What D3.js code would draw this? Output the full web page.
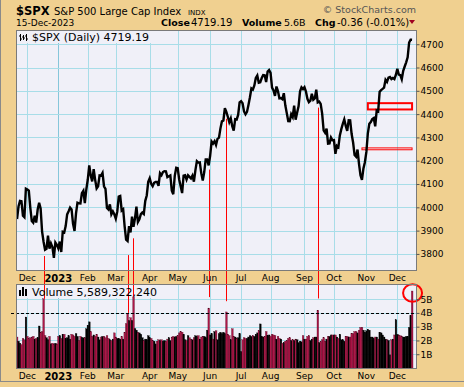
<!DOCTYPE html>
<html><head><meta charset="utf-8">
<script src="https://cdn.jsdelivr.net/npm/d3@7/dist/d3.min.js"></script>
<style>body{margin:0;background:#F0D090}svg{display:block}</style>
</head><body><svg id="c" width="464" height="387"></svg>
<script>
// ---------- DATA ----------
const dates = [
"2022-11-21","2022-11-22","2022-11-23","2022-11-25","2022-11-28","2022-11-29","2022-11-30",
"2022-12-01","2022-12-02","2022-12-05","2022-12-06","2022-12-07","2022-12-08","2022-12-09","2022-12-12","2022-12-13","2022-12-14","2022-12-15","2022-12-16","2022-12-19","2022-12-20","2022-12-21","2022-12-22","2022-12-23","2022-12-27","2022-12-28","2022-12-29","2022-12-30",
"2023-01-03","2023-01-04","2023-01-05","2023-01-06","2023-01-09","2023-01-10","2023-01-11","2023-01-12","2023-01-13","2023-01-17","2023-01-18","2023-01-19","2023-01-20","2023-01-23","2023-01-24","2023-01-25","2023-01-26","2023-01-27","2023-01-30","2023-01-31",
"2023-02-01","2023-02-02","2023-02-03","2023-02-06","2023-02-07","2023-02-08","2023-02-09","2023-02-10","2023-02-13","2023-02-14","2023-02-15","2023-02-16","2023-02-17","2023-02-21","2023-02-22","2023-02-23","2023-02-24","2023-02-27","2023-02-28",
"2023-03-01","2023-03-02","2023-03-03","2023-03-06","2023-03-07","2023-03-08","2023-03-09","2023-03-10","2023-03-13","2023-03-14","2023-03-15","2023-03-16","2023-03-17","2023-03-20","2023-03-21","2023-03-22","2023-03-23","2023-03-24","2023-03-27","2023-03-28","2023-03-29","2023-03-30","2023-03-31",
"2023-04-03","2023-04-04","2023-04-05","2023-04-06","2023-04-10","2023-04-11","2023-04-12","2023-04-13","2023-04-14","2023-04-17","2023-04-18","2023-04-19","2023-04-20","2023-04-21","2023-04-24","2023-04-25","2023-04-26","2023-04-27","2023-04-28",
"2023-05-01","2023-05-02","2023-05-03","2023-05-04","2023-05-05","2023-05-08","2023-05-09","2023-05-10","2023-05-11","2023-05-12","2023-05-15","2023-05-16","2023-05-17","2023-05-18","2023-05-19","2023-05-22","2023-05-23","2023-05-24","2023-05-25","2023-05-26","2023-05-30","2023-05-31",
"2023-06-01","2023-06-02","2023-06-05","2023-06-06","2023-06-07","2023-06-08","2023-06-09","2023-06-12","2023-06-13","2023-06-14","2023-06-15","2023-06-16","2023-06-20","2023-06-21","2023-06-22","2023-06-23","2023-06-26","2023-06-27","2023-06-28","2023-06-29","2023-06-30",
"2023-07-03","2023-07-05","2023-07-06","2023-07-07","2023-07-10","2023-07-11","2023-07-12","2023-07-13","2023-07-14","2023-07-17","2023-07-18","2023-07-19","2023-07-20","2023-07-21","2023-07-24","2023-07-25","2023-07-26","2023-07-27","2023-07-28","2023-07-31",
"2023-08-01","2023-08-02","2023-08-03","2023-08-04","2023-08-07","2023-08-08","2023-08-09","2023-08-10","2023-08-11","2023-08-14","2023-08-15","2023-08-16","2023-08-17","2023-08-18","2023-08-21","2023-08-22","2023-08-23","2023-08-24","2023-08-25","2023-08-28","2023-08-29","2023-08-30","2023-08-31",
"2023-09-01","2023-09-05","2023-09-06","2023-09-07","2023-09-08","2023-09-11","2023-09-12","2023-09-13","2023-09-14","2023-09-15","2023-09-18","2023-09-19","2023-09-20","2023-09-21","2023-09-22","2023-09-25","2023-09-26","2023-09-27","2023-09-28","2023-09-29",
"2023-10-02","2023-10-03","2023-10-04","2023-10-05","2023-10-06","2023-10-09","2023-10-10","2023-10-11","2023-10-12","2023-10-13","2023-10-16","2023-10-17","2023-10-18","2023-10-19","2023-10-20","2023-10-23","2023-10-24","2023-10-25","2023-10-26","2023-10-27","2023-10-30","2023-10-31",
"2023-11-01","2023-11-02","2023-11-03","2023-11-06","2023-11-07","2023-11-08","2023-11-09","2023-11-10","2023-11-13","2023-11-14","2023-11-15","2023-11-16","2023-11-17","2023-11-20","2023-11-21","2023-11-22","2023-11-24","2023-11-27","2023-11-28","2023-11-29","2023-11-30",
"2023-12-01","2023-12-04","2023-12-05","2023-12-06","2023-12-07","2023-12-08","2023-12-11","2023-12-12","2023-12-13","2023-12-14","2023-12-15"
];
const closes = [
3949.94,4003.58,4027.26,4026.12,3963.94,3957.63,4080.11,
4076.57,4071.70,3998.84,3941.26,3933.92,3963.51,3934.38,3990.56,4019.65,3995.32,3895.75,3852.36,3817.66,3821.62,3878.44,3822.39,3844.82,3829.25,3783.22,3849.28,3839.50,
3824.14,3852.97,3808.10,3895.08,3892.09,3919.25,3969.61,3983.17,3999.09,3990.97,3928.86,3898.85,3972.61,4019.81,4016.95,4016.22,4060.43,4070.56,4017.77,4076.60,
4119.21,4179.76,4136.48,4111.08,4164.00,4117.86,4081.50,4090.46,4137.29,4136.13,4147.60,4090.41,4079.09,3997.34,3991.05,4012.32,3970.04,3982.24,3970.15,
3951.39,3981.35,4045.64,4048.42,3986.37,3992.01,3918.32,3861.59,3855.76,3919.29,3891.93,3960.28,3916.64,3951.57,4002.87,3936.97,3948.72,3970.99,3977.53,3971.27,4027.81,4050.83,4109.31,
4124.51,4100.60,4090.38,4105.02,4109.11,4108.94,4091.95,4146.22,4137.64,4151.32,4154.87,4154.52,4129.79,4133.52,4137.04,4071.63,4055.99,4135.35,4169.48,
4167.87,4119.58,4090.75,4061.22,4136.25,4138.12,4119.17,4137.64,4130.62,4124.08,4136.28,4109.90,4158.77,4198.05,4191.98,4192.63,4145.58,4115.24,4151.28,4205.45,4205.52,4179.83,
4221.02,4282.37,4273.79,4283.85,4267.52,4293.93,4298.86,4338.93,4369.01,4372.59,4425.84,4409.59,4388.71,4365.69,4381.89,4348.33,4328.82,4378.41,4376.86,4396.44,4450.38,
4455.59,4446.82,4411.59,4398.95,4409.53,4439.26,4472.16,4510.04,4505.42,4522.79,4554.98,4565.72,4534.87,4536.34,4554.64,4567.46,4566.75,4537.41,4582.23,4588.96,
4576.73,4513.39,4501.89,4478.03,4518.44,4499.38,4467.71,4468.83,4464.05,4489.72,4437.86,4404.33,4370.36,4369.71,4399.77,4387.55,4436.01,4376.31,4405.71,4433.31,4497.63,4514.87,4507.66,
4515.77,4496.83,4465.48,4451.14,4457.49,4487.46,4461.90,4467.44,4505.10,4450.32,4453.53,4443.95,4402.20,4330.00,4320.06,4337.44,4273.53,4274.51,4299.70,4288.05,
4288.39,4229.45,4263.75,4258.19,4308.50,4335.66,4358.24,4376.95,4349.61,4327.78,4373.63,4373.20,4314.60,4278.00,4224.16,4217.04,4247.68,4186.77,4137.23,4117.37,4166.82,4193.80,
4237.86,4317.78,4358.34,4365.98,4378.38,4382.78,4347.35,4415.24,4411.55,4495.70,4502.88,4508.24,4514.02,4547.38,4538.19,4556.62,4559.34,4550.43,4554.89,4550.58,4567.80,
4594.63,4569.78,4567.18,4549.34,4585.59,4604.37,4622.44,4643.70,4707.09,4719.55,4719.19
];
// volume in billions of shares
const volumes = [
2.25,1.95,1.8,1.7,2.15,2.05,3.7,
2.3,2.15,2.2,2.25,2.3,2.1,2.15,2.2,3.05,2.6,2.65,5.03,2.35,2.2,2.05,2.3,1.75,1.8,1.75,1.8,1.75,
2.3,2.35,2.15,2.45,2.45,2.15,2.2,2.35,2.1,2.45,2.4,2.3,2.5,2.3,2.0,2.3,2.2,2.2,2.2,2.85,
3.1,3.35,2.65,2.3,2.4,2.3,2.45,2.25,2.05,2.25,2.3,2.3,2.2,2.35,2.15,2.05,2.0,2.1,2.55,
2.25,2.15,2.15,2.1,2.3,2.1,2.6,3.22,3.97,3.45,3.65,3.45,5.16,2.86,2.75,2.6,2.55,2.45,2.2,2.0,2.1,2.05,2.35,
2.2,2.15,2.0,1.95,1.75,1.95,2.05,2.0,2.05,1.95,2.0,1.95,2.1,2.2,2.0,2.25,2.3,2.25,2.3,
2.35,2.55,2.65,2.6,2.45,2.05,2.0,2.35,2.2,2.1,2.05,2.2,2.35,2.3,2.35,2.1,2.25,2.3,2.3,2.2,2.75,4.35,
2.4,2.5,2.1,2.65,2.7,2.05,2.5,2.6,2.5,2.6,2.5,4.07,2.45,2.35,2.05,2.85,2.3,2.25,2.15,2.2,2.5,
1.2,2.05,2.2,2.15,2.15,2.25,2.35,2.3,2.35,2.3,2.45,2.55,2.7,3.2,2.3,2.25,2.3,2.65,2.35,2.4,
2.3,2.45,2.4,2.35,2.1,2.3,2.15,2.1,1.8,1.85,1.95,2.0,2.15,2.2,2.0,2.05,2.0,2.1,2.05,1.85,1.95,1.9,2.35,
2.1,2.1,2.3,2.35,2.0,2.1,2.2,2.25,2.25,4.2,1.85,1.9,2.05,2.2,1.95,2.1,2.3,2.3,2.4,2.4,
2.4,2.4,2.25,2.15,2.45,2.05,2.05,1.95,2.3,2.3,2.25,2.25,2.5,2.5,2.65,2.65,2.55,2.75,2.95,2.95,2.75,2.6,
2.7,2.8,2.75,2.25,2.25,2.15,2.25,2.25,2.1,2.6,2.55,2.4,2.25,2.1,2.05,2.0,0.95,2.05,2.1,2.4,3.5,
2.45,2.4,2.35,2.3,2.25,2.25,2.3,2.3,2.95,3.8,5.59
];
const priceTicks = [3800,3900,4000,4100,4200,4300,4400,4500,4600,4700];
const volumeTicks = [1,2,3,4,5];
const monthStartDates = ["2022-12-01","2023-01-03","2023-02-01","2023-03-01","2023-04-03","2023-05-01","2023-06-01","2023-07-03","2023-08-01","2023-09-01","2023-10-02","2023-11-01","2023-12-01"];
const monthLabels = ["Dec","2023","Feb","Mar","Apr","May","Jun","Jul","Aug","Sep","Oct","Nov","Dec"];
// annotations (red lines from price panel down to volume spikes)
const markDates = ["2022-12-16","2023-03-13","2023-03-17","2023-05-31","2023-06-16","2023-09-15"];
const markPriceFrom = [3791,3795,3867,4162,4380,4428];
const markVolumeTo = [5.03,4.0,5.16,5.15,4.85,5.05];
const boxStart = ["2023-11-02","2023-10-27"];
const boxEnd = ["2023-12-15","2023-12-15"];
const boxLow = [4420,4247];
const boxHigh = [4447,4255];
const volumeRefLine = 4.0;

// ---------- DRAW ----------
const TAN="#F0D090", PBG="#F0F0F8", GRID="#A8DDE8", VRED="#AE1648";
const svg = d3.select("#c");
svg.append("rect").attr("width",464).attr("height",387).attr("fill",TAN);

const X0=16.5, X1=416.5, P0=30.5, P1=270.5, V0=284.5, V1=368.5;
const x = d3.scaleBand().domain(dates).range([16.3, 16.3 + dates.length*1.474]);
const cx = d => x(d) + x.bandwidth()/2;
const y = d3.scaleLinear().domain([3731, 4761]).range([270, 30]);
const yv = d3.scaleLinear().domain([0, 6.1]).range([368, 284]);

// panel backgrounds
[[P0,P1],[V0,V1]].forEach(([a,b])=>svg.append("rect").attr("x",X0).attr("y",a).attr("width",X1-X0).attr("height",b-a).attr("fill",PBG));

// grids
const g = svg.append("g").attr("stroke-width",1);
monthStartDates.forEach((d,i)=>{
  const xx = Math.round(cx(d))+0.5;
  const col = monthLabels[i]==="2023" ? "#86C6DA" : GRID;
  g.append("line").attr("x1",xx).attr("x2",xx).attr("y1",P0).attr("y2",P1).attr("stroke",col);
  g.append("line").attr("x1",xx).attr("x2",xx).attr("y1",V0).attr("y2",V1).attr("stroke",col);
});
priceTicks.forEach(t=>{const yy=Math.round(y(t))+0.5;
  g.append("line").attr("x1",X0).attr("x2",X1).attr("y1",yy).attr("y2",yy).attr("stroke",GRID);});
volumeTicks.forEach(t=>{const yy=Math.round(yv(t))+0.5;
  g.append("line").attr("x1",X0).attr("x2",X1).attr("y1",yy).attr("y2",yy).attr("stroke",GRID);});

// clip paths
const defs = svg.append("defs");
defs.append("clipPath").attr("id","cp").append("rect").attr("x",X0).attr("y",P0).attr("width",X1-X0).attr("height",P1-P0);
defs.append("clipPath").attr("id","cv").append("rect").attr("x",X0).attr("y",V0).attr("width",X1-X0).attr("height",V1-V0);

// legends backgrounds
svg.append("rect").attr("x",17).attr("y",31).attr("width",135).attr("height",12).attr("fill",PBG);
svg.append("rect").attr("x",17).attr("y",285).attr("width",143).attr("height",13).attr("fill",PBG);

// annotation boxes
boxStart.forEach((s,i)=>{
  const sw = i===0?2:1;
  svg.append("rect").attr("x",cx(s)).attr("y",y(boxHigh[i])).attr("width",cx(boxEnd[i])-cx(s))
    .attr("height",y(boxLow[i])-y(boxHigh[i])).attr("fill","none").attr("stroke","#FF0000").attr("stroke-width",sw);
});

// price line
svg.append("path").attr("clip-path","url(#cp)")
  .datum(closes)
  .attr("fill","none").attr("stroke","#000").attr("stroke-width",2.4).attr("stroke-linejoin","miter")
  .attr("d", d3.line().x((d,i)=>cx(dates[i])).y(d=>y(d)));

// volume bars (black = up day, red = down day)
const isUp = i => i>0 && closes[i]>=closes[i-1];
svg.append("g").attr("clip-path","url(#cv)").selectAll("rect").data(volumes).join("rect")
  .attr("x",(d,i)=>x(dates[i])).attr("width",x.bandwidth()+0.2)
  .attr("y",d=>yv(d)).attr("height",d=>V1-yv(d))
  .attr("fill",(d,i)=> isUp(i) ? "#000" : VRED)
  .attr("stroke",(d,i)=> isUp(i) ? "#000" : "#4a0018")
  .attr("stroke-width",0.3);

// volume reference dashed line
svg.append("line").attr("x1",11).attr("x2",X1).attr("y1",Math.round(yv(volumeRefLine))+0.5).attr("y2",Math.round(yv(volumeRefLine))+0.5)
  .attr("stroke","#000").attr("stroke-width",1).attr("stroke-dasharray","3,2");

// red marker lines
markDates.forEach((d,i)=>{
  const xx = Math.round(cx(d))+0.5;
  svg.append("line").attr("x1",xx).attr("x2",xx).attr("y1",y(markPriceFrom[i])).attr("y2",yv(markVolumeTo[i]))
    .attr("stroke","#FF0000").attr("stroke-width",1);
});

// red circle around last volume bar
svg.append("ellipse").attr("cx",cx(dates[dates.length-1])+0.5).attr("cy",yv(5.45)).attr("rx",9.5).attr("ry",8.8)
  .attr("fill","none").attr("stroke","#FF0000").attr("stroke-width",2);

// panel borders
[[P0,P1],[V0,V1]].forEach(([a,b])=>svg.append("rect").attr("x",X0).attr("y",a).attr("width",X1-X0).attr("height",b-a)
  .attr("fill","none").attr("stroke","#7a7a7a").attr("stroke-width",1));

// axes
const FONT = "DejaVu Sans, Verdana, sans-serif";
function styleAxis(sel){ sel.select(".domain").remove(); sel.selectAll("text").attr("font-family",FONT).attr("font-size",9).attr("fill","#000"); sel.selectAll("line").attr("stroke","#555"); }
svg.append("g").attr("transform",`translate(${X1},0)`)
  .call(d3.axisRight(y).tickValues(priceTicks).tickSize(3).tickPadding(1).tickFormat(d3.format("d"))).call(styleAxis);
svg.append("g").attr("transform",`translate(${X1},0)`)
  .call(d3.axisRight(yv).tickValues(volumeTicks).tickSize(3).tickPadding(1).tickFormat(d=>d+"B")).call(styleAxis);
[P1, V1].forEach(yy=>{
  const ax = svg.append("g").attr("transform",`translate(0,${yy})`)
    .call(d3.axisBottom(x).tickValues(monthStartDates).tickSize(0).tickPadding(4.5).tickFormat((d,i)=>monthLabels[i]))
    .call(styleAxis);
  ax.selectAll("text").filter((d,i)=>monthLabels[i]==="2023").attr("font-weight","bold").attr("font-size",10);
});

// legends
const lg = svg.append("g").attr("stroke","#000").attr("stroke-width",1);
lg.append("path").attr("d","M20.5,34V41M19,36H20.5M20.5,39H22M23.5,35V40M22,37H23.5M23.5,38H25M26.5,34V41M25,36H26.5M26.5,39H28").attr("fill","none");
svg.append("text").attr("x",32).attr("y",40.5).attr("font-family",FONT).attr("font-size",11).text("$SPX (Daily) 4719.19");
const vi = svg.append("g").attr("fill","#000");
[[19,290,2,6],[22,287,2,9],[25,289,2,7]].forEach(([a,b,w,h])=>vi.append("rect").attr("x",a).attr("y",b).attr("width",w).attr("height",h));
svg.append("text").attr("x",32).attr("y",295.5).attr("font-family",FONT).attr("font-size",11).text("Volume 5,589,322,240");

// header
const hd = svg.append("g").attr("font-family",FONT).attr("fill","#000");
hd.append("text").attr("x",16).attr("y",14.5).attr("font-size",11.5).attr("font-weight","bold").text("$SPX");
hd.append("text").attr("x",54).attr("y",14.5).attr("font-size",10).text("S&P 500 Large Cap Index");
hd.append("text").attr("x",188).attr("y",14.5).attr("font-size",7).text("INDX");
hd.append("text").attr("x",416).attr("y",13).attr("font-size",9.5).attr("fill","#555").attr("text-anchor","end").text("\u00A9 StockCharts.com");
hd.append("text").attr("x",16).attr("y",26).attr("font-size",9).text("15-Dec-2023");
hd.append("text").attr("x",161).attr("y",26).attr("font-size",9.5).attr("font-weight","bold").text("Close");
hd.append("text").attr("x",191).attr("y",26).attr("font-size",10).text("4719.19");
hd.append("text").attr("x",242).attr("y",26).attr("font-size",9.5).attr("font-weight","bold").text("Volume");
hd.append("text").attr("x",284).attr("y",26).attr("font-size",9.5).text("5.6B");
hd.append("text").attr("x",315).attr("y",26).attr("font-size",9.5).attr("font-weight","bold").text("Chg");
hd.append("text").attr("x",337).attr("y",26).attr("font-size",10).text("-0.36 (-0.01%)");
svg.append("path").attr("d","M409,20H415L412,24Z").attr("fill","#A00020");

// outer border lines
svg.append("line").attr("x1",0.5).attr("x2",0.5).attr("y1",0).attr("y2",382).attr("stroke","#8a8a8a");
svg.append("line").attr("x1",0).attr("x2",464).attr("y1",381.5).attr("y2",381.5).attr("stroke","#8a8a8a");
</script>
</body></html>
